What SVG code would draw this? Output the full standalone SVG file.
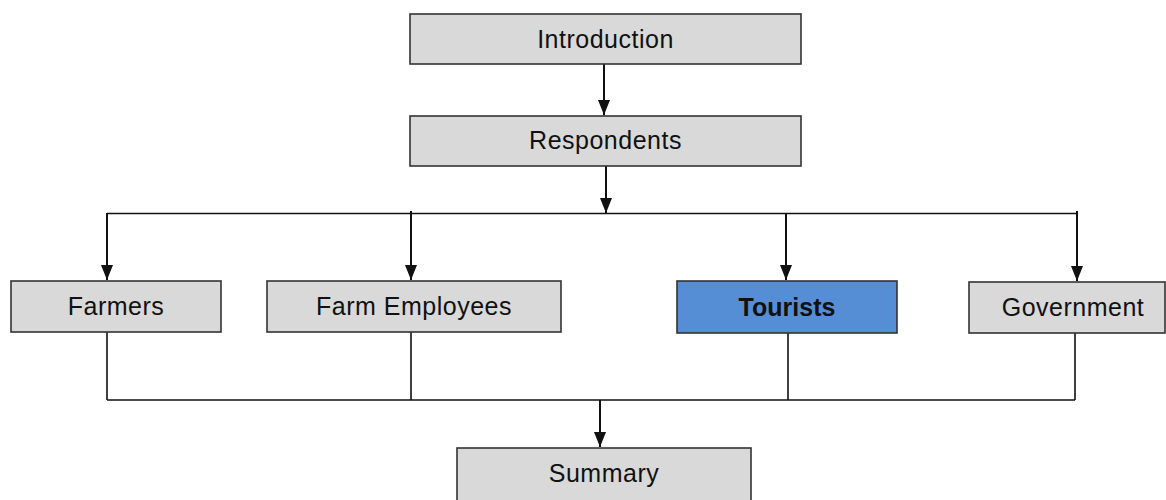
<svg xmlns="http://www.w3.org/2000/svg" width="1166" height="500" viewBox="0 0 1166 500">
  <style>
    .box { fill: #d9d9d9; stroke: #333333; stroke-width: 1.6; }
    .hl { fill: #558ed5; stroke: #333333; stroke-width: 1.6; }
    .lbl { font-family: "Liberation Sans", Arial, sans-serif; font-size: 25px; letter-spacing: 0.5px; fill: #111111; text-anchor: middle; }
    .bold { font-weight: bold; letter-spacing: 0; }
    .wire { fill: none; stroke: #111111; stroke-width: 1.6; }
    .arrow { fill: none; stroke: #111111; stroke-width: 2; marker-end: url(#head); }
  </style>
  <defs>
    <!-- filled triangular arrowhead, tip at the line end -->
    <marker id="head" markerUnits="userSpaceOnUse" markerWidth="15" markerHeight="12" refX="15" refY="6" orient="auto" viewBox="0 0 15 12">
      <path d="M0,0 L15,6 L0,12 Z" fill="#111111"/>
    </marker>
  </defs>
  <rect width="1166" height="500" fill="#ffffff"/>

  <g id="connectors">
    <!-- trunk -->
    <line class="arrow" x1="604" y1="64" x2="604" y2="115"/>
    <line class="arrow" x1="606" y1="166" x2="606" y2="213"/>
    <!-- fan-out bus -->
    <line class="wire" x1="107" y1="213.5" x2="1077" y2="213.5"/>
    <line class="arrow" x1="107" y1="213" x2="107" y2="280"/>
    <line class="arrow" x1="411" y1="211" x2="411" y2="280"/>
    <line class="arrow" x1="786" y1="213" x2="786" y2="280"/>
    <line class="arrow" x1="1077" y1="211" x2="1077" y2="281"/>
    <!-- fan-in bus -->
    <line class="wire" x1="107" y1="332" x2="107" y2="400"/>
    <line class="wire" x1="411" y1="332" x2="411" y2="400"/>
    <line class="wire" x1="788" y1="333" x2="788" y2="400"/>
    <line class="wire" x1="1075" y1="333" x2="1075" y2="400"/>
    <line class="wire" x1="107" y1="400" x2="1075" y2="400"/>
    <line class="arrow" x1="600" y1="400" x2="600" y2="447"/>
  </g>

  <g id="introduction">
    <rect class="box" x="410" y="14" width="391" height="50"/>
    <text class="lbl" x="605.5" y="48">Introduction</text>
  </g>
  <g id="respondents">
    <rect class="box" x="410" y="116" width="391" height="50"/>
    <text class="lbl" x="605.5" y="149">Respondents</text>
  </g>
  <g id="farmers">
    <rect class="box" x="11" y="281" width="210" height="51"/>
    <text class="lbl" x="116" y="315">Farmers</text>
  </g>
  <g id="farm-employees">
    <rect class="box" x="267" y="281" width="294" height="51"/>
    <text class="lbl" x="414" y="315">Farm Employees</text>
  </g>
  <g id="tourists">
    <rect class="hl" x="677" y="281" width="220" height="52"/>
    <text class="lbl bold" x="787" y="316">Tourists</text>
  </g>
  <g id="government">
    <rect class="box" x="969" y="282" width="196" height="51"/>
    <text class="lbl" x="1073" y="316">Government</text>
  </g>
  <g id="summary">
    <rect class="box" x="457" y="448" width="294" height="60"/>
    <text class="lbl" x="604" y="482">Summary</text>
  </g>
</svg>
